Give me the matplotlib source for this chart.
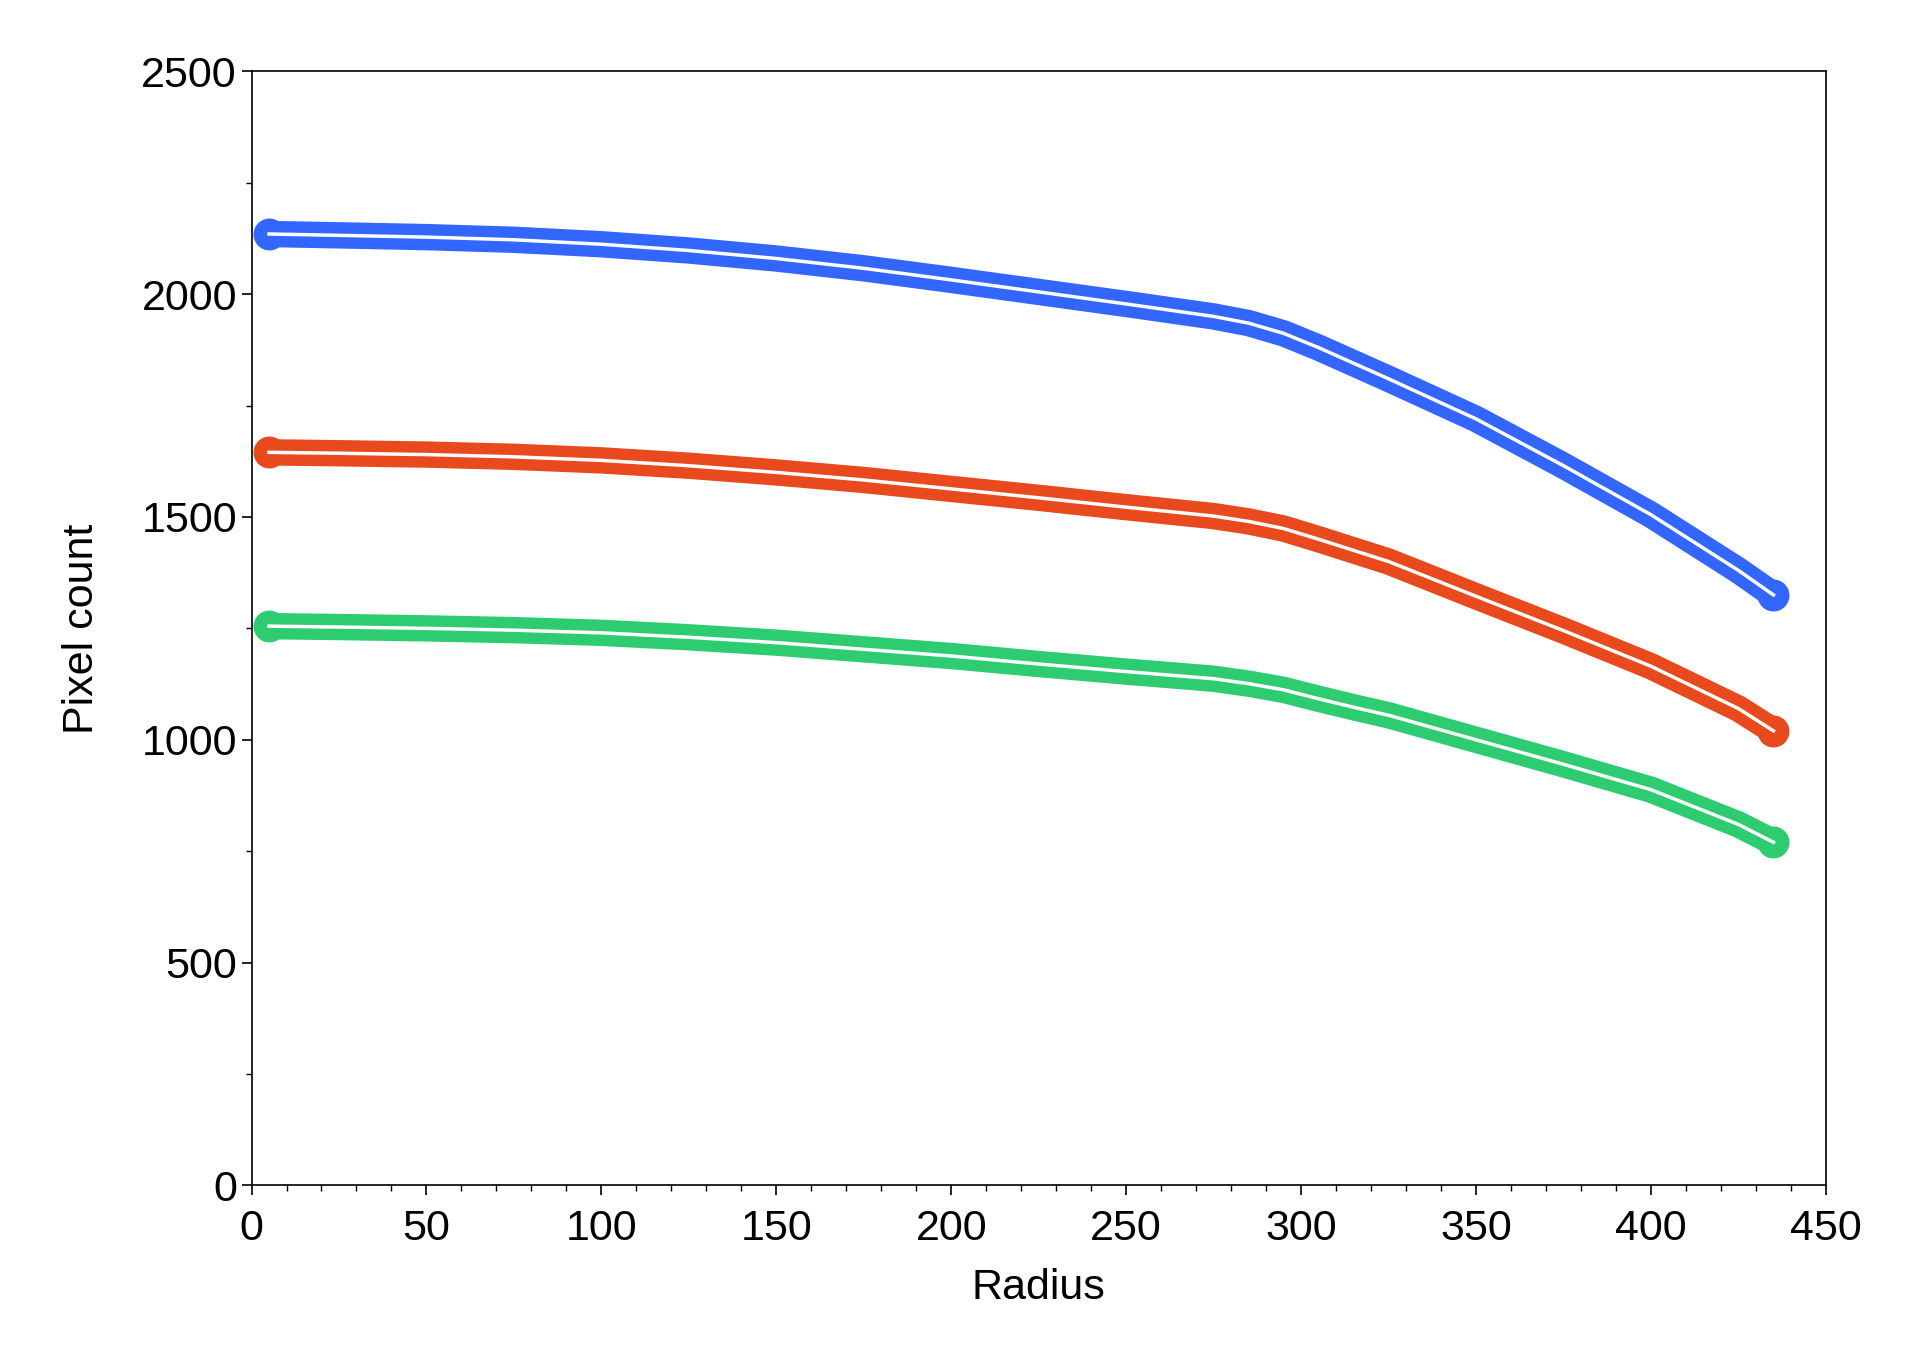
import matplotlib
matplotlib.use("Agg")
import matplotlib.pyplot as plt
from matplotlib.ticker import MultipleLocator

plt.rcParams['font.family'] = ['Liberation Sans', 'DejaVu Sans']

radius = [5, 25, 50, 75, 100, 125, 150, 175, 200, 225, 250, 275, 285, 295, 305, 315, 325, 350, 375, 400, 425, 435]
blue = [2135, 2132, 2128, 2122, 2112, 2098, 2080, 2058, 2032, 2005, 1978, 1950, 1935, 1912, 1880, 1845, 1810, 1720, 1615, 1505, 1380, 1325]
red = [1645, 1643, 1640, 1635, 1627, 1615, 1600, 1583, 1563, 1543, 1522, 1502, 1490, 1474, 1450, 1425, 1400, 1322, 1245, 1165, 1070, 1020]
green = [1255, 1253, 1250, 1246, 1240, 1230, 1218, 1203, 1188, 1170, 1153, 1137, 1126, 1112, 1092, 1073, 1055, 1000, 945, 888, 810, 770]

series = [(blue, '#3366ff'), (red, '#e8491d'), (green, '#2ecc71')]

fig = plt.figure(figsize=(19.2, 13.72), dpi=100)
ax = fig.add_axes([0.131, 0.136, 0.820, 0.812])

for vals, col in series:
    ax.plot(radius, vals, color=col, lw=19, solid_capstyle='round', solid_joinstyle='round', zorder=2)
    ax.plot([radius[0], radius[-1]], [vals[0], vals[-1]], 'o', color=col, ms=22, zorder=2)
    ax.plot(radius, vals, color='white', lw=2.5, zorder=3)

ax.set_xlim(0, 450)
ax.set_ylim(0, 2500)
ax.xaxis.set_major_locator(MultipleLocator(50))
ax.xaxis.set_minor_locator(MultipleLocator(10))
ax.yaxis.set_major_locator(MultipleLocator(500))
ax.yaxis.set_minor_locator(MultipleLocator(250))
ax.tick_params(which='major', length=7, width=1.2, labelsize=31)
ax.tick_params(axis='x', which='major', pad=10)
ax.tick_params(which='minor', length=4, width=1)
ax.set_xlabel('Radius', fontsize=31, labelpad=14)
ax.set_ylabel('Pixel count', fontsize=31, labelpad=28)
for s in ax.spines.values():
    s.set_linewidth(1.2)

fig.savefig('out.png', dpi=100, facecolor='white')
